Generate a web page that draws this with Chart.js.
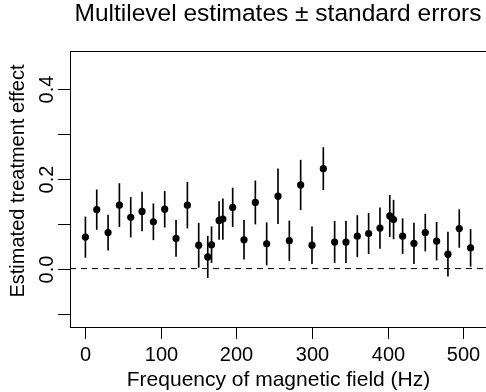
<!DOCTYPE html>
<html>
<head>
<meta charset="utf-8">
<script src="https://cdn.jsdelivr.net/npm/chart.js@4/dist/chart.umd.min.js"></script>
<style>
  html, body { margin: 0; padding: 0; background: #fff; overflow: hidden; }
  canvas { display: block; }
</style>
</head>
<body>
<canvas id="effectChart" width="490" height="392"></canvas>
<script>
// 周波数ごとの推定値と標準誤差
const freq = [0, 15, 30, 45, 60, 75, 90, 105, 120, 135, 150, 162, 167, 177, 182, 195, 210, 225, 240, 255,
    270, 285, 300, 315, 330, 345, 360, 375, 390, 403, 408, 420, 435, 450, 465, 480, 495, 510];
const estimate = [0.070, 0.131, 0.080, 0.141, 0.114, 0.127, 0.104, 0.132, 0.067, 0.141, 0.052, 0.026, 0.053,
    0.107, 0.110, 0.136, 0.064, 0.147, 0.055, 0.161, 0.062, 0.186, 0.052, 0.222, 0.059, 0.059, 0.072, 0.078,
    0.090, 0.117, 0.109, 0.072, 0.056, 0.080, 0.061, 0.032, 0.089, 0.046];
const stdErr = [0.045, 0.044, 0.039, 0.048, 0.044, 0.043, 0.040, 0.040, 0.040, 0.051, 0.049, 0.046, 0.040,
    0.042, 0.045, 0.043, 0.043, 0.048, 0.047, 0.061, 0.044, 0.055, 0.041, 0.047, 0.046, 0.046, 0.046, 0.045,
    0.045, 0.046, 0.043, 0.039, 0.045, 0.041, 0.042, 0.049, 0.042, 0.041];

// 軸の範囲と目盛り
const xRange = [-20.4, 530.4];
const yRange = [-0.1298, 0.4836];
const xTicks = [0, 100, 200, 300, 400, 500];
const yTicks = [-0.1, 0, 0.1, 0.2, 0.3, 0.4];
const yTickLabels = ['', '0.0', '', '0.2', '', '0.4'];

const titleText = 'Multilevel estimates \u00B1 standard errors';
const xTitle = 'Frequency of magnetic field (Hz)';
const yTitle = 'Estimated treatment effect';

const FONT = '"Liberation Sans", Arial, sans-serif';

// R風の枠・目盛り・ラベルを描く
const rAxesPlugin = {
    id: 'rAxes',
    afterDraw(chart) {
        const ctx = chart.ctx;
        const area = chart.chartArea;
        const xs = chart.scales.x;
        const ys = chart.scales.y;
        ctx.save();
        ctx.strokeStyle = '#000';
        ctx.fillStyle = '#000';
        ctx.lineWidth = 1;
        ctx.strokeRect(area.left + 0.5, area.top + 0.5, area.right - area.left, area.bottom - area.top);

        // x軸
        ctx.font = '20px ' + FONT;
        ctx.textAlign = 'center';
        ctx.textBaseline = 'alphabetic';
        xTicks.forEach(v => {
            const px = Math.round(xs.getPixelForValue(v)) + 0.5;
            ctx.beginPath();
            ctx.moveTo(px, area.bottom);
            ctx.lineTo(px, area.bottom + 12);
            ctx.stroke();
            ctx.fillText(String(v), px, 361);
        });
        ctx.font = '21px ' + FONT;
        ctx.fillText(xTitle, (area.left + area.right) / 2 + 0.5, 386);

        // y軸
        ctx.font = '20px ' + FONT;
        yTicks.forEach((v, i) => {
            const py = Math.round(ys.getPixelForValue(v)) + 0.5;
            ctx.beginPath();
            ctx.moveTo(area.left, py);
            ctx.lineTo(area.left - 12, py);
            ctx.stroke();
            if (yTickLabels[i]) {
                ctx.save();
                ctx.translate(53, py);
                ctx.rotate(-Math.PI / 2);
                ctx.fillText(yTickLabels[i], 0, 0);
                ctx.restore();
            }
        });
        ctx.save();
        ctx.font = '20px ' + FONT;
        ctx.translate(23.5, (area.top + area.bottom) / 2 - 8);
        ctx.rotate(-Math.PI / 2);
        ctx.fillText(yTitle, 0, 0);
        ctx.restore();

        // タイトル
        ctx.font = '24.5px ' + FONT;
        ctx.fillText(titleText, (area.left + area.right) / 2, 21);
        ctx.restore();
    }
};

new Chart(document.getElementById('effectChart').getContext('2d'), {
    type: 'scatter',
    data: {
        datasets: [
            {
                type: 'scatter',
                label: 'estimate',
                data: freq.map((f, i) => ({ x: f, y: estimate[i] })),
                backgroundColor: '#000',
                borderWidth: 0,
                pointRadius: 3.6,
                order: 0,
            },
            {
                type: 'bar',
                label: 'se',
                data: freq.map((f, i) => ({ x: f, y: [estimate[i] - stdErr[i], estimate[i] + stdErr[i]] })),
                backgroundColor: '#000',
                borderWidth: 0,
                barThickness: 1,
                order: 1,
            },
            {
                type: 'line',
                label: 'zero',
                data: [{ x: xRange[0], y: 0 }, { x: xRange[1], y: 0 }],
                borderColor: '#000',
                borderWidth: 1,
                borderDash: [6, 5],
                pointRadius: 0,
                fill: false,
                order: 2,
            }
        ]
    },
    options: {
        responsive: false,
        animation: false,
        devicePixelRatio: 1,
        layout: { padding: { left: 70, right: 2, top: 51, bottom: 65 } },
        plugins: {
            legend: { display: false },
            title: { display: false },
            tooltip: { enabled: false }
        },
        scales: {
            x: { type: 'linear', min: xRange[0], max: xRange[1], offset: false, display: false },
            y: { type: 'linear', min: yRange[0], max: yRange[1], display: false }
        }
    },
    plugins: [rAxesPlugin]
});
</script>
</body>
</html>
